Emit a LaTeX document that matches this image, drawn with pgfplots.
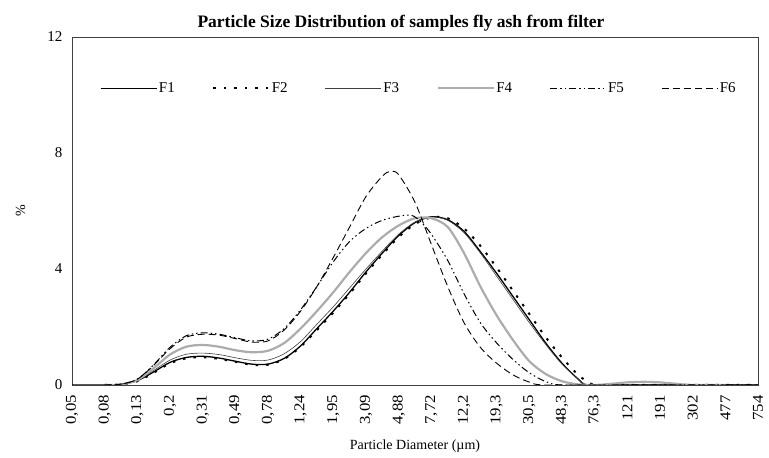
\documentclass[border=0pt]{standalone}
\usepackage{fontspec}
\setmainfont{Liberation Serif}
\usepackage{graphicx}
\usepackage{pgfplots}
\pgfplotsset{compat=1.18}
\newcommand{\xl}[1]{\scalebox{1.12}[1]{#1}}
\begin{document}
\begin{tikzpicture}[x=1pt,y=1pt]
\useasboundingbox (0,0) rectangle (769,458);
\node[font=\bfseries\fontsize{17.5}{19}\selectfont] at (401,435) {Particle Size Distribution of samples fly ash from filter};
\begin{axis}[
  at={(72pt,73pt)}, anchor=origin,
  scale only axis, width=686pt, height=348pt,
  xmin=0, xmax=21, ymin=0, ymax=12,
  axis line style={black!75, line width=0.7pt},
  major tick length=0pt,
  ytick={0,4,8,12},
  yticklabel style={font=\fontsize{15}{15}\selectfont, xshift=-6pt},
  xtick={0,...,21},
  xticklabels={\xl{0,05},\xl{0,08},\xl{0,13},\xl{0,2},\xl{0,31},\xl{0,49},\xl{0,78},\xl{1,24},\xl{1,95},\xl{3,09},\xl{4,88},\xl{7,72},\xl{12,2},\xl{19,3},\xl{30,5},\xl{48,3},\xl{76,3},\xl{121},\xl{191},\xl{302},\xl{477},\xl{754}},
  xticklabel style={rotate=90, anchor=east, font=\fontsize{15}{15}\selectfont, xshift=-9pt, inner sep=1pt},
  /pgf/number format/assume math mode=true,
  xlabel={Particle Diameter (µm)},
  xlabel style={font=\fontsize{14}{15}\selectfont, at={(axis description cs:0.5,-0.177)}, anchor=center},
  ylabel={\%},
  ylabel style={font=\fontsize{14}{15}\selectfont, at={(axis description cs:-0.075,0.5)}, anchor=center},
  legend columns=6,
  legend style={draw=none, fill=none, at={(0.0408,0.853)}, anchor=west, inner sep=0pt,
    font=\fontsize{15}{15}\selectfont,
    /tikz/every even column/.append style={column sep=36pt},
    nodes={inner sep=1.5pt}},
  legend image code/.code={\draw[#1] (0pt,0pt) -- (56pt,0pt);},
  every axis plot/.append style={smooth, tension=0.5},
]
\addplot[black, line width=1.3pt] coordinates {(0,0)(1,0)(1.5,0.02)(2,0.15)(2.5,0.45)(3,0.78)(3.5,0.95)(4,0.99)(4.5,0.93)(5,0.82)(5.5,0.72)(6,0.72)(6.5,0.92)(7,1.35)(7.5,1.95)(8,2.55)(8.5,3.2)(9,3.9)(9.5,4.55)(10,5.15)(10.5,5.6)(11,5.8)(11.5,5.7)(12,5.3)(12.5,4.6)(13,3.85)(13.5,3.05)(14,2.25)(14.5,1.45)(15,0.75)(15.5,0.2)(15.8,0)(17,0)(21,0)};
\addlegendentry{F1}
\addplot[black, line width=2pt, dash pattern=on 2.5pt off 8pt] coordinates {(1,0)(1.5,0.02)(2,0.13)(2.5,0.42)(3,0.75)(3.5,0.92)(4,0.96)(4.5,0.9)(5,0.8)(5.5,0.7)(6,0.7)(6.5,0.9)(7,1.32)(7.5,1.9)(8,2.5)(8.5,3.15)(9,3.85)(9.5,4.5)(10,5.1)(10.5,5.55)(11,5.78)(11.5,5.75)(12,5.4)(12.5,4.8)(13,4.05)(13.5,3.25)(14,2.45)(14.5,1.65)(15,0.95)(15.5,0.35)(16,0)(17,0)(21,0)};
\addlegendentry{F2}
\addplot[black!75, line width=0.6pt] coordinates {(1,0)(1.5,0.02)(2,0.16)(2.5,0.5)(3,0.86)(3.5,1.06)(4,1.1)(4.5,1.05)(5,0.94)(5.5,0.85)(6,0.86)(6.5,1.08)(7,1.5)(7.5,2.1)(8,2.7)(8.5,3.35)(9,4.0)(9.5,4.62)(10,5.2)(10.5,5.62)(11,5.8)(11.5,5.68)(12,5.25)(12.5,4.55)(13,3.75)(13.5,2.95)(14,2.15)(14.5,1.4)(15,0.72)(15.5,0.2)(15.8,0)(17,0)(21,0)};
\addlegendentry{F3}
\addplot[gray!65, line width=2.2pt] coordinates {(1,0)(1.5,0.02)(2,0.17)(2.5,0.58)(3,1.05)(3.5,1.32)(4,1.38)(4.5,1.32)(5,1.2)(5.5,1.13)(6,1.18)(6.5,1.45)(7,1.95)(7.5,2.55)(8,3.2)(8.5,3.9)(9,4.55)(9.5,5.1)(10,5.5)(10.5,5.75)(11,5.75)(11.5,5.45)(12,4.55)(12.5,3.4)(13,2.4)(13.5,1.55)(14,0.82)(14.5,0.38)(15,0.13)(15.5,0.02)(16,0)(16.5,0.04)(17,0.09)(17.5,0.11)(18,0.09)(18.5,0.04)(19,0)(20,0)};
\addlegendentry{F4}
\addplot[black, line width=1pt, dash pattern=on 7pt off 3pt on 1.5pt off 3pt on 1.5pt off 3pt] coordinates {(1,0)(1.5,0.03)(2,0.2)(2.5,0.7)(3,1.3)(3.5,1.7)(4,1.8)(4.5,1.75)(5,1.63)(5.5,1.52)(6,1.58)(6.5,1.95)(7,2.6)(7.5,3.4)(8,4.25)(8.5,4.95)(9,5.4)(9.5,5.68)(10,5.82)(10.4,5.85)(10.7,5.6)(11,5.2)(11.5,4.3)(12,3.15)(12.5,2.15)(13,1.45)(13.5,0.88)(14,0.42)(14.5,0.12)(15,0)(17,0)(21,0)};
\addlegendentry{F5}
\addplot[black, line width=0.9pt, dash pattern=on 7pt off 4pt] coordinates {(1,0)(1.5,0.03)(2,0.2)(2.5,0.68)(3,1.25)(3.5,1.65)(4,1.75)(4.5,1.72)(5,1.6)(5.5,1.48)(6,1.52)(6.5,1.9)(7,2.55)(7.5,3.4)(8,4.4)(8.5,5.45)(9,6.5)(9.5,7.2)(9.75,7.37)(10,7.25)(10.5,6.3)(11,4.85)(11.5,3.4)(12,2.15)(12.5,1.3)(13,0.75)(13.5,0.35)(14,0.1)(14.5,0)(17,0)(21,0)};
\addlegendentry{F6}
\end{axis}
\end{tikzpicture}
\end{document}
